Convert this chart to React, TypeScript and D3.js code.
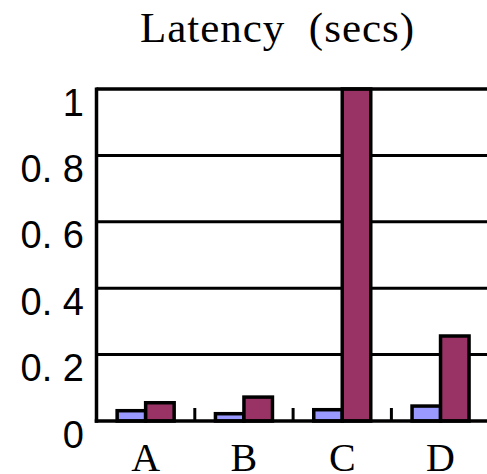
import React from "react";
import * as d3 from "d3";

const categories = ["A", "B", "C", "D"];
const seriesBlue = [0.031, 0.022, 0.034, 0.045];
const seriesPurple = [0.055, 0.072, 1.0, 0.256];
const yTickValues = [0, 0.2, 0.4, 0.6, 0.8, 1];
const yTickLabels = ["0", "0. 2", "0. 4", "0. 6", "0. 8", "1"];
const title = "Latency  (secs)";

const W = 487;
const H = 474;
const left = 96.5;
const step = 98.3;
const top = 89;
const bottom = 421;

export default function App() {
  const x = d3
    .scaleBand<string>()
    .domain(categories)
    .range([left, left + step * categories.length])
    .paddingInner(0.42)
    .paddingOuter(0.21);
  const inner = d3
    .scaleBand<string>()
    .domain(["blue", "purple"])
    .range([0, x.bandwidth()]);
  const y = d3.scaleLinear().domain([0, 1]).range([bottom, top]);
  const series = [
    { key: "blue", values: seriesBlue, color: "#9999FF" },
    { key: "purple", values: seriesPurple, color: "#993366" },
  ];
  const right = W + 5;
  const boundaries = categories.slice(1).map((c) => x(c)! - (x.step() - x.bandwidth()) / 2);

  return (
    <svg
      width={W}
      height={H}
      style={{ position: "absolute", left: 0, top: 0, background: "#fff" }}
    >
      <text
        x={277.5}
        y={41.5}
        textAnchor="middle"
        fontFamily="'Liberation Serif', 'Times New Roman', serif"
        fontSize={43}
        letterSpacing={1}
        style={{ whiteSpace: "pre" }}
      >
        {title}
      </text>
      {yTickValues
        .filter((v) => v > 0)
        .map((v) => (
          <line key={v} x1={left} x2={right} y1={y(v)} y2={y(v)} stroke="#000" strokeWidth={3} />
        ))}
      {series.map((s) =>
        categories.map((c, i) => (
          <rect
            key={s.key + c}
            x={x(c)! + inner(s.key)!}
            y={y(s.values[i])}
            width={inner.bandwidth()}
            height={y(0) - y(s.values[i])}
            fill={s.color}
            stroke="#000"
            strokeWidth={3.5}
          />
        ))
      )}
      <line x1={left} x2={right} y1={top} y2={top} stroke="#000" strokeWidth={3} />
      <line x1={left} x2={left} y1={top - 1.5} y2={bottom + 1.75} stroke="#000" strokeWidth={3.5} />
      <line x1={left - 1.75} x2={right} y1={bottom} y2={bottom} stroke="#000" strokeWidth={3.5} />
      {boundaries.map((bx, i) => (
        <line key={i} x1={bx} x2={bx} y1={bottom} y2={bottom - 13} stroke="#000" strokeWidth={3} />
      ))}
      {yTickValues.map((v, i) => (
        <text
          key={v}
          x={84}
          y={y(v) + 26.5}
          textAnchor="end"
          fontFamily="'Liberation Sans', Arial, sans-serif"
          fontSize={38}
          style={{ whiteSpace: "pre" }}
        >
          {yTickLabels[i]}
        </text>
      ))}
      {categories.map((c) => (
        <text
          key={c}
          x={x(c)! + x.bandwidth() / 2}
          y={471}
          textAnchor="middle"
          fontFamily="'Liberation Serif', 'Times New Roman', serif"
          fontSize={40}
        >
          {c}
        </text>
      ))}
    </svg>
  );
}
